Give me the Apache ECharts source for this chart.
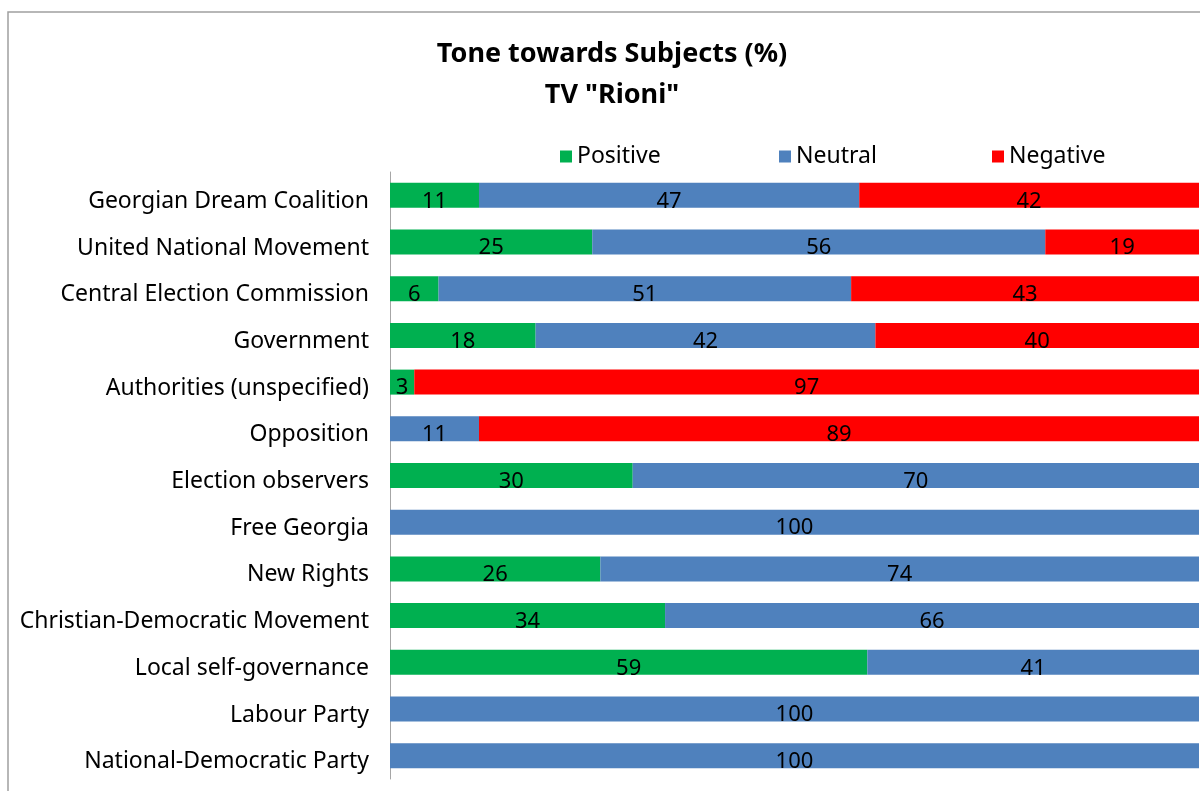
<!DOCTYPE html>
<html>
<head>
<meta charset="utf-8">
<script src="https://cdn.jsdelivr.net/npm/echarts@6/dist/echarts.min.js"></script>
<style>
  html, body { margin: 0; padding: 0; background: #fff; }
  #chart { width: 1200px; height: 791px; }
</style>
</head>
<body>
<div id="chart"></div>
<script>
// categories, top to bottom
const subjects = [
  'Georgian Dream Coalition',
  'United National Movement',
  'Central Election Commission',
  'Government',
  'Authorities (unspecified)',
  'Opposition',
  'Election observers',
  'Free Georgia',
  'New Rights',
  'Christian-Democratic Movement',
  'Local self-governance',
  'Labour Party',
  'National-Democratic Party'
];

// tone shares (%), null = no segment
const positive = [11, 25, 6, 18, 3, null, 30, null, 26, 34, 59, null, null];
const neutral  = [47, 56, 51, 42, null, 11, 70, 100, 74, 66, 41, 100, 100];
const negative = [42, 19, 43, 40, 97, 89, null, null, null, null, null, null, null];

const FONT = '"Noto Sans", "Open Sans", sans-serif';

const chart = echarts.init(document.getElementById('chart'));

function makeSeries(name, data, color) {
  return {
    name: name,
    type: 'bar',
    stack: 'tone',
    data: data,
    barWidth: 25,
    itemStyle: { color: color },
    label: {
      show: true,
      position: 'inside',
      color: '#000',
      fontFamily: FONT,
      fontSize: 22,
      offset: [0, 6],
      formatter: p => (p.value == null ? '' : p.value)
    },
    emphasis: { disabled: true }
  };
}

function legendAt(name, left) {
  return {
    data: [name],
    left: left,
    top: 140,
    itemWidth: 12,
    itemHeight: 12,
    icon: 'rect',
    itemGap: 8,
    textStyle: { fontFamily: FONT, fontSize: 23, color: '#000' }
  };
}

chart.setOption({
  backgroundColor: '#fff',
  animation: false,
  title: {
    text: 'Tone towards Subjects (%)\nTV "Rioni"',
    left: 607,
    textAlign: 'center',
    top: 29,
    textStyle: {
      fontFamily: FONT,
      fontWeight: 'bold',
      fontSize: 27,
      lineHeight: 41,
      color: '#000'
    }
  },
  legend: [
    legendAt('Positive', 555),
    legendAt('Neutral', 774),
    legendAt('Negative', 987)
  ],
  graphic: [{
    type: 'rect',
    shape: { x: 8, y: 12, width: 1300, height: 900 },
    style: { fill: null, stroke: '#a0a0a0', lineWidth: 1.5 },
    silent: true,
    z: -1
  }],
  grid: {
    left: 390,
    right: 1,
    top: 172,
    height: 607,
    containLabel: false
  },
  xAxis: {
    type: 'value',
    min: 0,
    max: 100,
    show: false
  },
  yAxis: {
    type: 'category',
    data: subjects,
    inverse: true,
    axisLine: { show: true, lineStyle: { color: '#a6a6a6', width: 1 } },
    axisTick: { show: false },
    axisLabel: {
      fontFamily: FONT,
      fontSize: 23,
      color: '#000',
      margin: 21,
      verticalAlign: 'top',
      lineHeight: 12
    }
  },
  series: [
    makeSeries('Positive', positive, '#00B050'),
    makeSeries('Neutral', neutral, '#4F81BD'),
    makeSeries('Negative', negative, '#FF0000')
  ]
});
</script>
</body>
</html>
